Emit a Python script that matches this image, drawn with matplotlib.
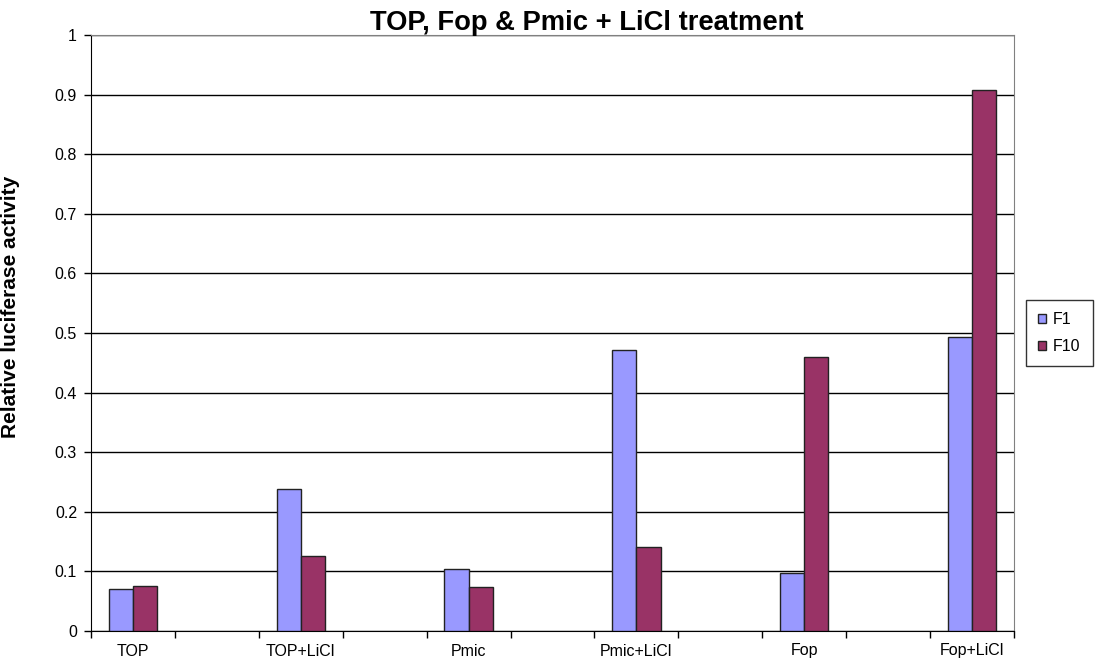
import numpy as np
import matplotlib
matplotlib.use('Agg')
import matplotlib.pyplot as plt
from matplotlib.ticker import FuncFormatter, MultipleLocator

plt.rcParams['font.family'] = ['Liberation Sans', 'DejaVu Sans']

# 数据：每组之间有空列
categories = ['TOP', '', 'TOP+LiCl', '', 'Pmic', '', 'Pmic+LiCl', '', 'Fop', '', 'Fop+LiCl']
f1 = [0.070, np.nan, 0.238, np.nan, 0.104, np.nan, 0.472, np.nan, 0.097, np.nan, 0.494]
f10 = [0.076, np.nan, 0.126, np.nan, 0.074, np.nan, 0.141, np.nan, 0.460, np.nan, 0.907]
y_ticks = [0, 0.1, 0.2, 0.3, 0.4, 0.5, 0.6, 0.7, 0.8, 0.9, 1.0]

fig = plt.figure(figsize=(11.03, 6.62), dpi=100)
ax = fig.add_axes([91 / 1103, 1 - 631 / 662, (1014 - 91) / 1103, (631 - 35) / 662])

x = np.arange(len(categories))
w = 0.288
ax.bar(x - w / 2, f1, w, color='#9999FF', edgecolor='#222222', linewidth=1, label='F1', zorder=3)
ax.bar(x + w / 2, f10, w, color='#993366', edgecolor='#222222', linewidth=1, label='F10', zorder=3)

ax.set_xlim(-0.5, len(categories) - 0.5)
ax.set_ylim(0, 1)
ax.set_yticks(y_ticks)
ax.yaxis.set_major_formatter(FuncFormatter(lambda v, p: '%g' % v))
ax.yaxis.grid(True, color='black', linewidth=1)
ax.set_axisbelow(True)

# 分类标签放在中间，刻度线在分组边界
ax.set_xticks(x)
ax.set_xticklabels(categories)
ax.xaxis.set_minor_locator(MultipleLocator(1, offset=0.5))
ax.tick_params(axis='x', which='major', length=0, pad=9, labelsize=11.5)
ax.tick_params(axis='x', which='minor', length=5, width=1, color='black')
ax.tick_params(axis='y', length=5, width=1, color='black', labelsize=11.5, pad=5)

ax.spines['left'].set_color('black')
ax.spines['bottom'].set_color('black')
ax.spines['top'].set_color('#808080')
ax.spines['right'].set_color('#808080')

ax.set_ylabel('Relative luciferase activity', fontsize=15, fontweight='bold')
ax.yaxis.set_label_coords(-0.077, 0.543)
fig.text(587 / 1103, 1 - 29.5 / 662, 'TOP, Fop & Pmic + LiCl treatment',
         fontsize=19.7, fontweight='bold', ha='center', va='baseline')

leg = fig.legend(loc='upper left', bbox_to_anchor=(1026 / 1103, 1 - 300 / 662),
                 fontsize=11.5, frameon=True, fancybox=False, edgecolor='black',
                 handlelength=0.5, handleheight=0.5, handletextpad=0.45,
                 borderpad=0.75, labelspacing=0.75, borderaxespad=0)
leg.get_frame().set_linewidth(1)

plt.savefig('out.png', dpi=100)
